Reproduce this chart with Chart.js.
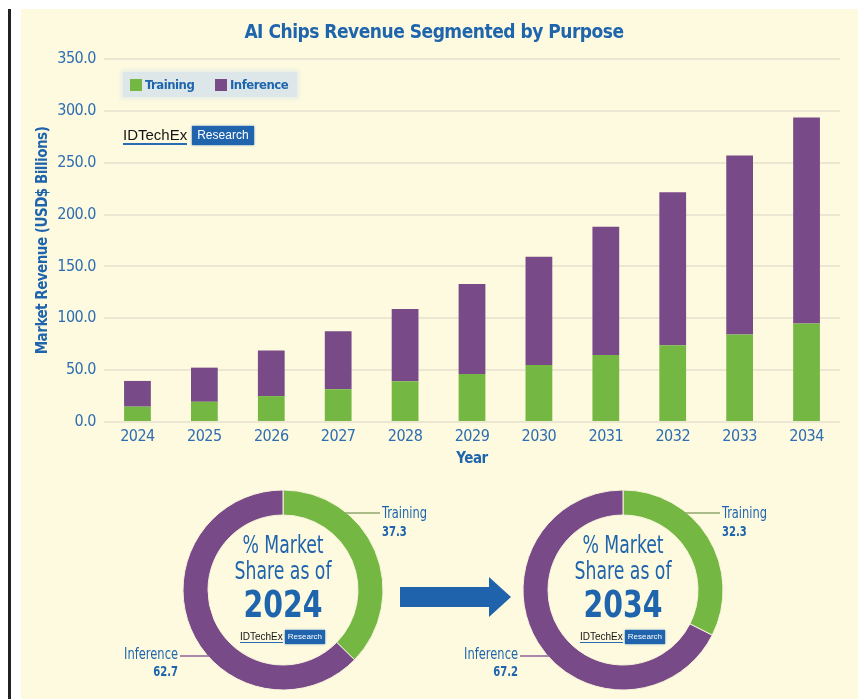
<!DOCTYPE html>
<html>
<head>
<meta charset="utf-8">
<script src="https://cdn.jsdelivr.net/npm/chart.js"></script>
<style>
  body { margin: 0; background: #fff; }
  #page { position: relative; width: 860px; height: 699px; overflow: hidden; background: #fff; }
  .rule { position: absolute; left: 8px; top: 9px; width: 3px; height: 690px; background: #222; }
  .panel { position: absolute; left: 21px; top: 9px; width: 837px; height: 690px; background: #fefadf; }
  .abs { position: absolute; }
  .legend {
    position: absolute; left: 123px; top: 72px; width: 174px; height: 25px;
    background: #dde7ea; box-shadow: 0 0 4px 2px #e6ece6;
    font: bold 13px 'Liberation Sans Narrow', 'DejaVu Sans Condensed', sans-serif; letter-spacing: -0.5px; color: #1f65ad;
  }
  .legend .sw { position: absolute; top: 7px; width: 12px; height: 12px; }
  .legend .lbl { position: absolute; top: 3px; line-height: 19px; }
  .logo { position: absolute; display: flex; align-items: center; font-family: 'Liberation Sans', Arial, sans-serif; white-space: nowrap; }
  .logo .idt { color: #151515; border-bottom: 2px solid #2a6cb3; }
  .logo .res { background: #1f64ac; color: #fff; box-shadow: 0 0 2px #3d7cc0; }
  .big { left: 123px; top: 126px; font-size: 15px; }
  .big .idt { line-height: 16px; }
  .big .res { margin-left: 5px; padding: 0 5px; font-size: 12px; line-height: 19px; }
  .small { font-size: 10px; }
  .small .idt { line-height: 11px; border-bottom-width: 1px; }
  .small .res { margin-left: 2px; padding: 0 3px; font-size: 8px; line-height: 14px; }
  .arrow {
    position: absolute; left: 400px; top: 577px; width: 111px; height: 40px; background: #1e63ab;
    clip-path: polygon(0 10px, 89px 10px, 89px 0, 111px 20px, 89px 40px, 89px 30px, 0 30px);
  }
</style>
</head>
<body>
<div id="page">
  <div class="rule"></div>
  <div class="panel"></div>

  <div class="abs" style="left:0;top:0;width:860px;height:472px"><canvas id="bars"></canvas></div>

  <div class="legend">
    <span class="sw" style="left:7px;background:#74b843"></span><span class="lbl" style="left:22px">Training</span>
    <span class="sw" style="left:92px;background:#784a88"></span><span class="lbl" style="left:107px">Inference</span>
  </div>
  <div class="logo big"><span class="idt">IDTechEx</span><span class="res">Research</span></div>

  <div class="abs" style="left:108px;top:485px;width:350px;height:210px"><canvas id="donut2024"></canvas></div>
  <div class="abs" style="left:448px;top:485px;width:350px;height:210px"><canvas id="donut2034"></canvas></div>
  <div class="logo small" style="left:240px;top:630px"><span class="idt">IDTechEx</span><span class="res">Research</span></div>
  <div class="logo small" style="left:580px;top:630px"><span class="idt">IDTechEx</span><span class="res">Research</span></div>

  <div class="arrow"></div>
</div>

<script>
// revenue by year, USD$ billions
const years = ['2024', '2025', '2026', '2027', '2028', '2029', '2030', '2031', '2032', '2033', '2034'];
const training = [14.8, 19.5, 25.0, 31.6, 39.3, 46.3, 54.9, 64.5, 74.0, 84.3, 94.9];
const inference = [24.8, 32.9, 44.0, 55.9, 69.6, 86.7, 104.4, 123.8, 147.5, 172.7, 198.8];

// % market share per segment
const shareLabels = ['Training', 'Inference'];
const share2024 = [37.3, 62.7];
const share2034 = [32.3, 67.2];

const GREEN = '#74b843';
const PURPLE = '#784a88';
const BLUE = '#1f65ad';
const TICK = '#2d6db2';
const NARROW = "'Liberation Sans Narrow', 'DejaVu Sans Condensed', sans-serif";

Chart.defaults.font.family = NARROW;

// squeeze the canvas lettering a little
const tightText = {
  id: 'tightText',
  beforeDraw(chart) { chart.ctx.letterSpacing = '-0.5px'; }
};

new Chart(document.getElementById('bars'), {
  type: 'bar',
  data: {
    labels: years,
    datasets: [
      { label: 'Training', data: training, backgroundColor: GREEN },
      { label: 'Inference', data: inference, backgroundColor: PURPLE }
    ]
  },
  options: {
    responsive: true,
    maintainAspectRatio: false,
    animation: false,
    events: [],
    barPercentage: 0.4,
    categoryPercentage: 1,
    layout: { padding: { left: 28, right: 20, top: 0, bottom: 0 } },
    plugins: {
      legend: { display: false },
      tooltip: { enabled: false },
      title: {
        display: true,
        text: 'AI Chips Revenue Segmented by Purpose',
        color: BLUE,
        font: { size: 19, weight: 'bold' },
        padding: { top: 22, bottom: 14.2 }
      }
    },
    scales: {
      x: {
        stacked: true,
        grid: { display: false },
        border: { display: false },
        ticks: { color: TICK, font: { size: 16 }, padding: -3 },
        title: { display: true, text: 'Year', color: BLUE, font: { size: 15, weight: 'bold' }, padding: { top: 0, bottom: 4 } },
        afterFit: (s) => { s.height = 50; }
      },
      y: {
        stacked: true,
        min: 0,
        max: 350,
        border: { display: false },
        grid: { color: '#ebe7d2', lineWidth: 2, drawTicks: false },
        ticks: { stepSize: 50, color: TICK, font: { size: 16 }, padding: 8, callback: (v) => v.toFixed(1) },
        title: { display: true, text: 'Market Revenue (USD$ Billions)', color: BLUE, font: { size: 15, weight: 'bold' }, padding: { top: 6, bottom: 0 } },
        afterFit: (s) => { s.width = 76; }
      }
    }
  },
  plugins: [tightText]
});

// text drawn narrower than the font's own width
function squeezed(ctx, text, x, y, sx) {
  ctx.save();
  ctx.translate(x, y);
  ctx.scale(sx, 1);
  ctx.fillText(text, 0, 0);
  ctx.restore();
}

// centre caption and the two callouts around each ring
const donutText = {
  id: 'donutText',
  afterDatasetsDraw(chart, args, opts) {
    const ctx = chart.ctx;
    const arc = chart.getDatasetMeta(0).data[0];
    const cx = arc.x, cy = arc.y, r = arc.outerRadius;
    const ds = chart.data.datasets[0];
    const labels = chart.data.labels;

    ctx.save();
    ctx.textBaseline = 'middle';
    ctx.fillStyle = BLUE;
    ctx.textAlign = 'center';
    ctx.font = '24px ' + NARROW;
    squeezed(ctx, '% Market', cx, cy - 43, 0.8);
    squeezed(ctx, 'Share as of', cx, cy - 17, 0.8);
    ctx.font = 'bold 38px ' + NARROW;
    squeezed(ctx, opts.year, cx, cy + 17, 0.83);

    // Training, upper right
    const ty = cy - 77;
    ctx.strokeStyle = '#8fa76e';
    ctx.lineWidth = 1.5;
    ctx.beginPath();
    ctx.moveTo(cx + Math.sqrt(r * r - 77 * 77) - 2, ty);
    ctx.lineTo(cx + 97, ty);
    ctx.stroke();
    ctx.textAlign = 'left';
    ctx.font = '15px ' + NARROW;
    squeezed(ctx, labels[0], cx + 99, cy - 76, 0.85);
    ctx.font = 'bold 14px ' + NARROW;
    squeezed(ctx, ds.data[0].toFixed(1), cx + 99, cy - 58, 0.8);

    // Inference, lower left
    const iy = cy + 66;
    ctx.strokeStyle = '#8d629b';
    ctx.beginPath();
    ctx.moveTo(cx - Math.sqrt(r * r - 66 * 66) + 2, iy);
    ctx.lineTo(cx - 103, iy);
    ctx.stroke();
    ctx.textAlign = 'right';
    ctx.font = '15px ' + NARROW;
    squeezed(ctx, labels[1], cx - 105, cy + 65, 0.85);
    ctx.font = 'bold 14px ' + NARROW;
    squeezed(ctx, ds.data[1].toFixed(1), cx - 105, cy + 82, 0.8);
    ctx.restore();
  }
};

function makeDonut(id, values, year) {
  new Chart(document.getElementById(id), {
    type: 'doughnut',
    data: {
      labels: shareLabels,
      datasets: [{
        data: values,
        backgroundColor: [GREEN, PURPLE],
        borderColor: '#f7f3da',
        borderWidth: 1,
        hoverOffset: 0
      }]
    },
    options: {
      responsive: true,
      maintainAspectRatio: false,
      animation: false,
      events: [],
      radius: 100,
      cutout: '75%',
      plugins: {
        legend: { display: false },
        tooltip: { enabled: false },
        donutText: { year: year }
      }
    },
    plugins: [donutText]
  });
}

makeDonut('donut2024', share2024, '2024');
makeDonut('donut2034', share2034, '2034');
</script>
</body>
</html>
